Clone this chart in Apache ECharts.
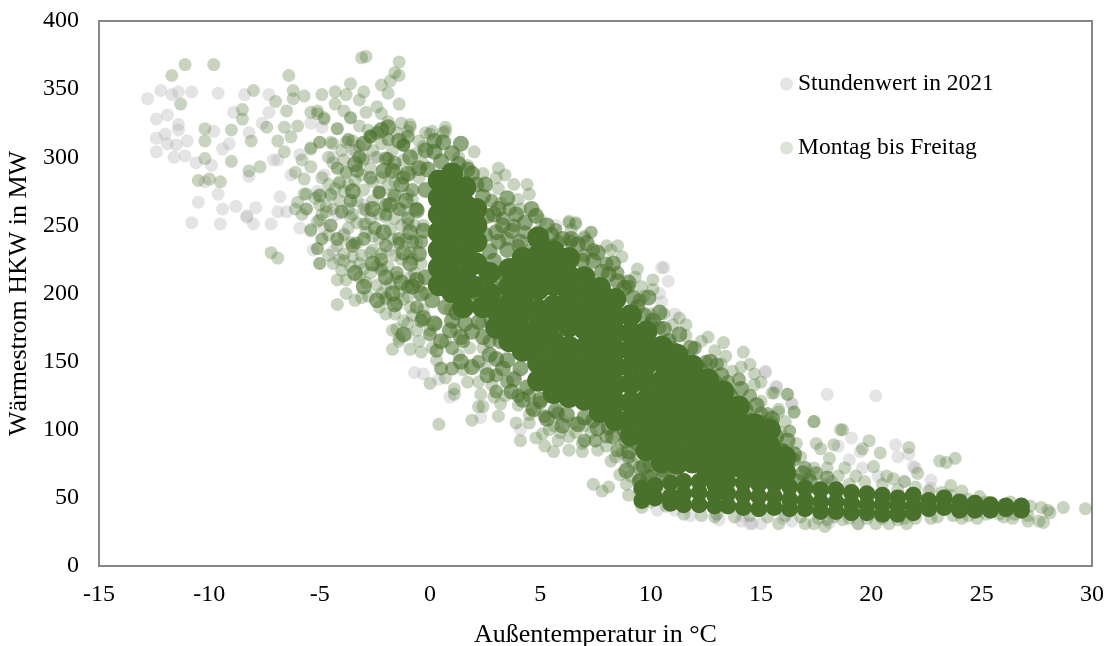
<!DOCTYPE html>
<html><head><meta charset="utf-8">
<script src="https://cdn.jsdelivr.net/npm/echarts@6/dist/echarts.min.js"></script>
<style>html,body{margin:0;padding:0;background:#fff}#c{width:1108px;height:646px}</style>
</head><body><div id="c"></div>
<script>
const nameAll = 'Stundenwert in 2021';
const nameWeek = 'Montag bis Freitag';
const hourly = [[-12.8,343],[-12.2,349],[-11.7,346],[-11.4,348],[-10.8,348],[-9.6,347],[-11.9,331],[-12.4,328],[-11.4,324],[-11.4,320],[-12,317],[-12.4,314],[-11.9,310],[-11.5,309],[-11,312],[-9.8,319],[-12.4,304],[-11.6,300],[-11.1,301],[-10.6,296],[-9.9,294],[-10.2,282],[-9.6,273],[-10.5,267],[-9.4,262],[-8.8,264],[-7.9,263],[-8.3,257],[-8.3,256],[-8,251],[-10.8,252],[-9.5,251],[-7.2,251],[-6.8,271],[-6.9,260],[-6.5,260],[-8.4,346],[-8.9,333],[-7.3,346],[-7.3,333],[-8.2,318],[-9.1,310],[-9.4,306],[-7.6,325],[-7.1,298],[-6.9,298],[-8.2,286],[-5.9,302],[-6.3,287],[-5.4,325],[-4.9,322],[-4.4,300],[-4.8,287],[-5.1,275],[-5.9,248],[-4.8,248],[-4.2,258],[-5.3,232],[-4.4,231],[-3.9,244],
[18,126],[20.2,125],[19.1,94],[21.1,89],[18.5,88],[21.7,82],[19.5,84],[21.2,80],[19,78],[21.9,73],[22,72],[22.7,63],[20.3,66],[19.6,72],[21.5,62],[22.7,57],[14.6,31],[15,31],[16.4,33],[19.4,31],[15.7,132],[16.4,119],[15.2,142],
[10.6,219],[10.5,219],[10.8,209],[10.4,200],[10.5,194],[11.1,185],[15.2,143],[15.7,131],[16.4,119],[5.7,250],[10.9,167],
[-0.7,142],[-0.3,141],[0.4,137],[0.9,124],[2.3,109],[4.1,100],[10.3,41],[11.1,41],[11.8,37],[14.2,37],[14.5,31],[8.9,76],[6,107],[-3.5,305],[-2.5,300],[-3,265],[-1.8,232],[-2,205],[-1,170],[3.8,190],[4.4,188],[3.9,140],[13.1,34],[14.1,33],[16,35],[18.1,32],[22.1,44]];
const weekday = [[-11.1,368],[-9.8,368],[-11.7,360],[-11.3,339],[-10.2,321],[-10.2,312],[-9,320],[-8.1,312],[-10.2,299],[-9,297],[-8.2,290],[-7.7,293],[-10.5,283],[-10,284],[-9.5,282],[-8,349],[-8.5,335],[-8.5,328],[-7,341],[-7.4,322],[-6.5,334],[-6.4,360],[-6.2,349],[-6.2,343],[-5.7,345],[-6.6,322],[-6,323],[-6.3,315],[-6.9,312],[-6.6,304],[-5.4,306],[-5,311],[-5.8,298],[-5.4,293],[-6.1,289],[-5.7,284],[-5.6,273],[-6,267],[-6.1,262],[-5.6,262],[-5.8,258],[-5.4,246],[-5.1,253],[-4.7,260],[-5,265],[-4.5,273],[-4.1,281],[-4.2,292],[-3.8,289],[-4.9,240],[-5.1,233],[-5,222],[-7.2,230],[-6.9,226],[-3.6,354],[-3,348],[-3.2,342],[-3.1,373],[-2.9,374],[-1.4,370],[-1.6,362],[-1.4,360],[-1.8,356],[-2.2,353],[-1.9,347],[-1.4,339],[-4.9,346],[-4.3,348],[-3.8,346],[-4.3,339],[-5.4,333],[-5.1,334],[-4.8,328],[-3.9,334],[-3.6,329],[-2.9,333],[-4.2,321],[-3.7,313],[-4.4,310],[-3,299],[-3.9,275],[-3.6,256],[-2.9,251],[-3.3,237],[-3.9,224],[-3.2,222],[-2.4,337],[-2.7,316],[-1.9,313],[-1.2,309],[-0.9,322],[0,317],[0.7,319],[-1.9,299],[-2.3,275],[-1.7,273],[-2,258],[-1.4,237],[-2.2,217],[-2.6,232],
[17.4,106],[18.7,100],[17.5,90],[17.7,86],[18.3,89],[19.9,92],[19.6,86],[20.4,83],[21.7,87],[23.1,77],[23.4,76],[23.8,79],[18.1,79],[17.4,72],[18.8,72],[20.1,73],[19.3,66],[18.5,66],[21,64],[22.1,68],[21.5,62],[23.6,59],[24.1,55],[24.9,51],[26.3,47],[27.2,44],[27.7,43],[28.1,39],[28,41],[28.7,43],[29.7,42],[27.1,33],[27.8,32],[27.6,33],[27.1,37],[15.8,31],[17,31],[17.4,31],[17.9,29],[18,34],[18.7,34],[19.4,31],[20.2,31],[20.8,31],[21.6,31],[21.5,35],[22.7,35],[24.1,35],[24.8,35],[26,36],[26.4,35],[16.2,126],[16.5,113],[15.3,112],[15.8,113],[15.5,127],[16.3,99],
[6.3,253],[6.6,251],[7.3,245],[7,241],[5.7,247],[8,235],[8.5,235],[8.2,232],[8.7,227],[9.4,218],[10.1,210],[10.1,203],[9.6,205],[9.7,198],[9.3,212],[10,185],[10.6,185],[11.3,182],[11,177],[11.6,177],[11.6,169],[12.6,168],[12.3,165],[13.3,164],[12.9,158],[14.2,157],[13.4,154],[13.2,148],[14.5,148],[14.1,146],[13.7,143],[14.7,141],[15,135],[14.7,133],[15.6,127],[16.2,126],[15,121],[15.3,112],[15.8,115],[16.5,113],[16.1,106],[16.3,99],[17.4,106],[18.6,100],
[0.4,104],[-1.7,159],[-1.4,165],[-0.9,159],[-0.4,157],[0.3,151],[0,134],[1.1,126],[1.1,130],[1.9,107],[3.1,110],[2.3,126],[2.4,117],[2.2,117],[3.9,105],[4.5,105],[4.1,92],[4.8,94],[5.1,97],[5.2,88],[5.6,103],[5.6,84],[5.8,92],[6.3,85],[6.3,95],[6.9,84],[6.9,90],[8.2,77],[8.6,67],[7.4,60],[7.8,55],[8.1,58],[9.2,75],[8.7,83],[9.6,43],[12.9,36],[9.5,55],[10.7,44],[-1.7,173],[-2,197],[0.7,138],[1.5,144],[2.9,124],[3.2,119],[4.5,111],[7,103],[7.6,85],[9.1,66],
[2,304],[1.3,300],[1.7,294],[3.1,292],[2.4,288],[3.4,287],[3,285],[3.8,280],[4.4,280],[4.5,273],[3.1,277],[4,269],[4.1,262],[3.2,266],[5,254],[5.7,247],[6.3,252],[6.6,252],[7,242],[7.3,245],[6.4,247],[0.7,322],[0.1,319],[0.6,318],[-0.2,318],[-0.9,324],[-1,319],[-1.2,309],[-1.9,313],[-2.7,315],[-2.8,320],[-3.7,313],[-3.8,311],[-5,311],[-4.5,311],[-5.4,307],[-4.8,329],[-5.1,332],[-3.6,329],[-2.2,332],[-1.9,326],[-3.2,323],[-4.2,321],[-3,298],[-3.4,305],[-1.9,299],[-2.7,292],[-4.2,292],[-3.8,289],[-4.5,272],[-4.1,282],[-5.7,273],[-5.6,262],[-4.7,264],[-5,254],[-5.4,247],[-4.9,240],[-5.1,233],[-5,222],[-4.1,225],[-3.9,243],[-3.5,258],[-3.4,237],[-3,251],[-2.6,242],[-2.3,274],[-2,258],[-2.2,229],[-2.2,218],[-2.7,215],[-2.4,206],[-3.2,212],[-4,217],[-4.2,210],[-3.8,200],[-3.4,195],[-4.2,192],[-3.1,197],[-2.8,198],[-2,196],[-2.3,190],[-2,185],[-1.5,174],[-1.4,167],[-0.8,184],[-1.5,212],[-1.4,201],[-1.2,196],[-0.7,215],[-2.4,220],[-3.5,227],[-3.9,229],[-3.6,237],[-2.9,261],[-3,276],[-1.4,237],[-1.8,247],[-2,256],[-1,273],[-1.2,261],[-0.8,269],[-1,251],[-0.3,250],[-0.6,237],[-0.8,291],[-0.6,303],[-1.5,291],[-1.2,298],[-0.2,200],[-0.8,225],[-1,198],[-0.3,188],[-1,178],[-0.6,173],[0,173],[0.3,178],[1.2,173],[2.3,178],[2.9,176],[3.3,168],[0.9,188],
[-4.6,300],[-4.4,296],[-4,305],[-3.9,298],[-3.5,312],[-3.2,308],[-2.6,305],[-2.4,300],[-2.2,310],[-1.7,305],[-1.5,318],[-1.3,325],[-0.5,312],[-0.3,308],[-4.9,285],[-4.6,280],[-4.3,277],[-3.7,280],[-3.4,283],[-3.1,287],[-2.6,282],[-2.2,285],[-1.9,280],[-1.6,282],[-0.5,285],[-0.3,295],[-5.2,270],[-4.9,258],[-4.4,262],[-4.1,268],[-3.7,262],[-3.3,268],[-3,262],[-2.6,268],[-2.7,255],[-2.3,258],[-1.6,255],[-1.3,250],[-0.7,250],[-4.6,243],[-4.2,235],[-3.7,248],[-3.3,252],[-2.9,245],[-2.3,240],[-1.7,240],[-1.1,240],[-0.9,230],[-1.6,228],[-2.7,230],[-3.1,228],[-3.6,220],[-4.6,228],[-4.4,222],[-3.8,210],[-3,218],[-2.9,208],[-1.9,220],[-1.3,225],[-0.4,222],[-0.9,212],[-1.8,207],[-2.2,200],[-1.5,192],[-0.9,190],[-0.5,205],[-1.6,185],[-1.2,180],[-0.5,165],[0.1,160],[0.7,165],[1.3,155],[1.8,160],[2.4,160],[2.5,145],[1.7,135],[2.2,135],[2.8,133],[3.4,125],[4,118],[4.6,115],[5.4,100],[5.9,98],[6.6,98],[6.5,105],[7.3,98],[8,88],[8.4,80],[9.4,80],[8.9,60],[9,52],[10,47],[10.4,53],
[16.8,80],[17.2,66],[17.8,60],[18.2,62],[19,60],[19.7,62],[20.5,60],[20.7,66],[21.2,56],[22,58],[22.6,55],[23.2,54],[23.6,52],[24.4,49],[25.2,47],[26,45],[18,72],[16.6,90],[15.9,98],[15.6,90],
[11.5,38],[12.3,37],[13,38],[13.8,36],[14.5,37],[15.3,36],[16.1,37],[16.8,36],[17.6,35],[18.3,36],[19,35],[19.8,35],[20.5,35],[21.2,34],[22,35],[23,36],[23.7,37],[24.4,37],[25.2,38],[25.8,38],[26.5,38]];
const weekdayDense = [[-2.7,315],[-2.4,318],[-1.2,309],[-1,315],[-2,299],[-1.6,296],[-1.2,285],[-0.8,276],[-2.3,274],[-2,265],[-1.6,272],[-1.4,262],[-1,255],[-0.6,262],[-0.4,238],[-0.8,238],[-1.4,240],[-2,235],[-2.5,248],[-3,240],[-3.5,235],[-2.2,225],[-1.5,215],[-1,205],[-0.6,190],[-0.4,180],[0,170],[0.3,158],[1,160],[1.5,165],[2.2,150],[2.7,165],[3,140],[3.5,135],[4,125],[4.5,125],[5,120],[5.2,110],[5.8,112],[2.5,190],[3,200],[3.2,215],[3.5,240],[4,235],[3.8,250],[4.3,245],[4.6,232],[4.9,245],[5.5,235],[5.8,238],[3.3,255],[3.6,262],[2.8,268],[6.4,238],[7,228],[7.4,232],[8,222],[8.5,215],[9,205],[9.5,195],[10,178],[10.4,175],[11,160],[11.5,155],[12,160],[12.5,150],[13,148],[13.5,135],[14,137],[14.5,125],[15,112],[15.5,105],[16,85],[16.5,78],[17,72],[17.5,68],[18,65],[7,92],[7.5,92],[8,95],[8.5,85],[9,80],[9.5,72],[10,66],[10.5,70],[11,65],[9.5,63],[1,145],[0.5,145],[3,128],[-5,272],[-3.3,290],[-3.2,300],[-2.7,285],[-3.6,268],[-4,260],[-4.5,250],[-4.2,240]];
const weekdayFringe = [[-0.5,292],[-0.2,276],[-0.6,261],[-0.3,246],[-0.5,229],[0.2,304],[-0.1,291],[0.5,297],[0.6,311],[1,303],[1.3,295],[1.7,291],[2.1,280],[2.4,271],[2.6,257],[2.5,243],[2.7,231],[2.4,219],[2.8,204],[0.1,195],[0.7,190],[1.2,186],[1.9,192],[0.9,173],[1.6,178],[2.2,179],[-0.2,212],[-0.4,200],
[3.1,238],[2.9,224],[3.3,211],[3,198],[2.8,180],[3.2,165],[3,152],[3.7,246],[3.5,232],[3.8,218],[3.4,205],[3.7,165],[3.5,151],[3.8,137],[4.3,252],[4.1,238],[4.4,226],[4.1,212],[4.3,158],[4.1,145],[4.4,131],[4.8,257],[5,241],[4.8,136],[5,122],[5.5,243],[5.7,231],[5.5,127],[5.7,114],[6.4,240],[6.2,227],[6.4,124],[6.2,111],[7.1,237],[6.9,224],[7.1,212],[7,109],[7.6,230],[7.8,216],[7.6,204],[7.8,113],[7.6,101],[8.3,222],[8.5,209],[8.3,196],[8.5,107],[8.3,95],[9,208],[9.2,197],[9,184],[9.2,96],[9,84],[9.9,197],[9.7,184],[9.9,172],[9.7,73],[10.4,186],[10.6,174],[10.4,161],[10.6,66],[11.3,170],[11.1,158],[11.3,146],[11.8,160],[12,148],[11.8,135],[12.7,150],[12.5,138],[12.7,126],[13.2,140],[13.4,128],[13.2,117],[14.1,130],[13.9,118],[14.1,106],[14.8,118],[14.6,107],[14.8,96],[14.6,85],[15.5,108],[15.3,96],[15.5,86],[16.2,92],[16,84],[16.2,75],[16.9,68],[16.7,62],[8.9,70],[9.5,62],
[-0.6,210],[-0.3,182],[0.2,178],[0.5,165],[1,180],[1.4,168],[1.9,172],[2.4,168],[2.7,155],[3,172],[1.4,150],[1.9,146],[2.6,140],[3.3,145],[3.7,128],[4.2,122],[4.7,115],[5.3,108],[6,103],[6.7,104],[7.4,107],[8.1,102],[8.8,100],[9.4,90],[8.9,92],[9.9,65],[10,75],[2.2,200],[2.4,208],[3,245],[3.3,250],[3.9,258],[3.5,270],[2.9,258],[3.1,262],[4.6,262],[5.3,250],[6,240],[6.7,236],[7.4,224],[8.1,214],[8.8,204],[9.4,190],[10.1,180],[10.8,165],[11.5,150],[12.2,145],[12.9,135],[13.6,125],[14.3,115],[15,105],[15.7,95],[16.5,82],[17.2,62],[-1.2,170],[-1.6,192],[-0.9,245],[-1.3,280],[-0.9,300],[-0.2,305],[0.2,312],[1.4,310],[1.9,288],[2.5,280],[-1.7,290],[-2.1,290],[-1.8,265],[-1.1,268],[-0.9,222],[-1.3,208],[-2,212],[-2.4,195],[-1.7,200],[-3,205],[-3.4,215],[-2.6,222],[-2.1,245],[-1.2,230],[-0.8,205],[-2.6,262],[-3.5,275],[-3.4,295],[-2.2,320],[-3,310],[-1.9,322],[-1.4,312],[-1,288]];
const weekdayCore = [[0.4,283],[0.4,270],[0.4,258],[0.4,245],[0.4,232],[0.4,219],[0.4,206],[1,288],[1,277],[1,265],[1,252],[1,241],[1,227],[1,214],[1,201],[1.6,278],[1.6,265],[1.6,252],[1.6,240],[1.6,228],[1.6,214],[1.6,203],[2.1,262],[2.1,250],[2.1,238],[2.1,222],
[3.6,192],[3.6,178],[4.2,198],[4.2,186],[4.2,172],[4.9,228],[4.9,216],[4.9,203],[4.9,188],[4.9,175],[4.9,163],[4.9,149],[5.6,218],[5.6,206],[5.6,191],[5.6,179],[5.6,165],[5.6,152],[5.6,139],[6.3,213],[6.3,201],[6.3,188],[6.3,176],[6.3,161],[6.3,149],[6.3,137],[7,199],[7,186],[7,174],[7,160],[7,147],[7,134],[7,122],[7.7,191],[7.7,178],[7.7,165],[7.7,152],[7.7,139],[7.7,126],[8.4,183],[8.4,171],[8.4,158],[8.4,146],[8.4,133],[8.4,120],[9.1,171],[9.1,159],[9.1,146],[9.1,134],[9.1,120],[9.1,108],[9.8,160],[9.8,148],[9.8,135],[9.8,122],[9.8,110],[9.8,97],[9.8,85],[10.5,150],[10.5,136],[10.5,124],[10.5,112],[10.5,100],[10.5,88],[10.5,76],[11.2,142],[11.2,133],[11.2,121],[11.2,109],[11.2,98],[11.2,85],[11.2,75],[11.9,123],[11.9,111],[11.9,99],[11.9,87],[11.9,76],[12.6,113],[12.6,102],[12.6,90],[12.6,78],[12.6,68],[13.3,105],[13.3,93],[13.3,82],[13.3,71],[14,95],[14,84],[14,73],[14.7,80],[14.7,70],[15.4,76],[15.4,66],[16.1,68],
[2.7,215],[2.7,200],[3,188],[3,175],[3.6,205],[3.6,165],[3.6,218],[4.2,212],[4.2,158],[4.2,226],[4.9,241],[4.9,136],[5.6,231],[5.6,127],[6.3,226],[6.3,124],[7,212],[7.7,204],[7.7,113],[8.4,196],[8.4,107],[9.1,184],[9.1,96],[9.8,172],[10.5,161],[11.2,155],[11.9,135],[11.9,147],[12.6,125],[12.6,137],[13.3,117],[13.3,128],[14,106],[14,117],[14.7,92],[14.7,104],[15.4,88],[15.4,100],[16.1,80],[2.4,190],[2,205],[1.5,190]];
const weekdayBand = [[9.6,57],[9.6,48],[10.2,59],[10.2,50],[10.9,61],[10.9,51],[10.9,46],[11.5,62],[11.5,53],[11.5,45],[12.2,62],[12.2,54],[12.2,45],[12.9,60],[12.9,52],[12.9,44],[13.5,62],[13.5,53],[13.5,44],[14.2,61],[14.2,52],[14.2,43],[14.9,60],[14.9,51],[14.9,42],[15.6,60],[15.6,51],[15.6,43],[16.3,58],[16.3,49],[16.3,42],[17,57],[17,48],[17,42],[17.7,56],[17.7,47],[17.7,40],[18.4,56],[18.4,47],[18.4,40],[19.1,54],[19.1,46],[19.1,39],[19.8,53],[19.8,45],[19.8,39],[20.5,52],[20.5,45],[20.5,38],[21.2,50],[21.2,44],[21.2,38],[21.9,52],[21.9,44],[21.9,39],[22.6,48],[22.6,42],[23.3,50],[23.3,43],[24,47],[24,41],[24.7,46],[24.7,41],[25.4,45],[25.4,41],[26.1,44],[26.1,42],[26.8,44],[26.8,41]];

const serif = '"Liberation Serif","Times New Roman",serif';
const green = '#4a712c';
const mk = (name, data, color, opacity, size) => ({type:'scatter', name, data, symbol:'circle', symbolSize:size||13,
  itemStyle:{color, opacity, borderWidth:0}, animation:false, silent:true});
const chart = echarts.init(document.getElementById('c'), null, {renderer:'canvas'});
chart.setOption({
  animation:false, backgroundColor:'#fff',
  grid:{left:99, top:21, width:993, height:545, outerBoundsMode:'none', containLabel:false, show:true, borderColor:'#868686', borderWidth:2, backgroundColor:'transparent'},
  legend:{left:775, top:67, orient:'vertical', itemGap:40, itemWidth:13, itemHeight:13,
    data:[{name:nameAll, itemStyle:{opacity:0.3}}, {name:nameWeek, itemStyle:{opacity:0.2}}], selectedMode:false,
    textStyle:{fontFamily:serif, fontSize:23.5, color:'#000'}},
  xAxis:{type:'value', min:-15, max:30, interval:5, name:'Außentemperatur in °C', nameLocation:'middle', nameGap:56,
    nameTextStyle:{fontFamily:serif, fontSize:26, color:'#000'},
    axisLine:{show:false}, axisTick:{show:false}, splitLine:{show:false},
    axisLabel:{fontFamily:serif, fontSize:24, color:'#000', margin:17}},
  yAxis:{type:'value', min:0, max:400, interval:50, name:'Wärmestrom HKW in MW', nameLocation:'middle', nameGap:62,
    nameTextStyle:{fontFamily:serif, fontSize:26, color:'#000'},
    axisLine:{show:false}, axisTick:{show:false}, splitLine:{show:false},
    axisLabel:{fontFamily:serif, fontSize:24, color:'#000', margin:20}},
  series:[
    mk(nameAll, hourly, '#a5a5a9', 0.3),
    mk(nameWeek, weekday, green, 0.3),
    mk('dicht', weekdayDense, green, 0.55, 14),
    mk('Rand', weekdayFringe, green, 0.62, 16),
    mk('Kern', weekdayCore, green, 1, 22),
    mk('Band', weekdayBand, green, 1, 17)
  ]
});
</script></body></html>
